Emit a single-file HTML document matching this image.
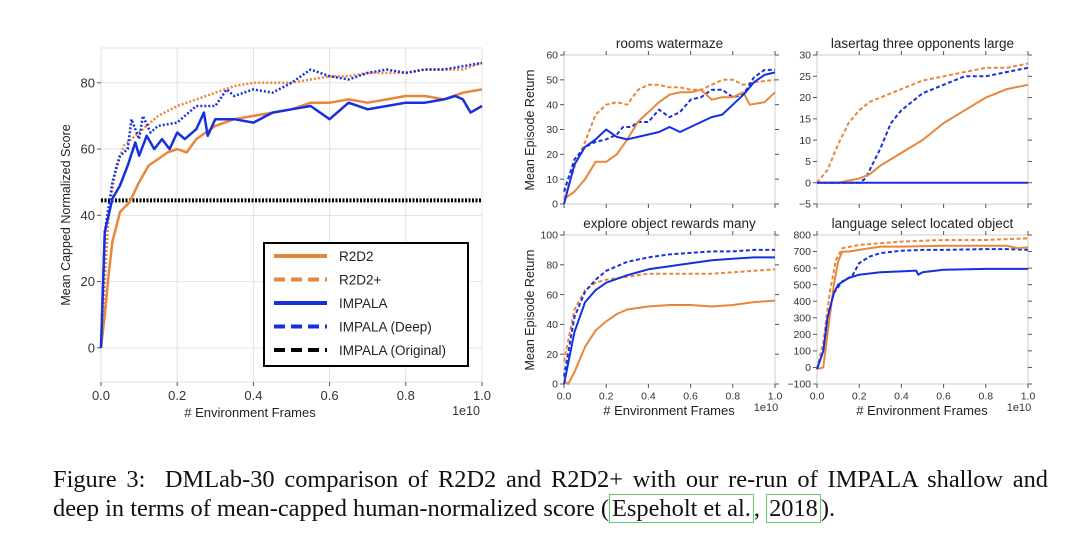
<!DOCTYPE html>
<html><head><meta charset="utf-8">
<style>
html,body{margin:0;padding:0;background:#fff;}
body{width:1080px;height:535px;overflow:hidden;position:relative;font-family:"Liberation Sans",sans-serif;}
.cap{position:absolute;left:53px;font-family:"Liberation Serif",serif;font-size:24.4px;color:#111;white-space:nowrap;}
.cite{border:1.5px solid #6c6;padding:0 2px;}
</style></head>
<body>
<svg id="fig" width="1080" height="460" style="position:absolute;left:0;top:0" font-family="Liberation Sans, sans-serif"></svg>
<div class="cap" style="top:466px;width:995px;text-align:justify;text-align-last:justify;white-space:normal">Figure 3:&nbsp; DMLab-30 comparison of R2D2 and R2D2+ with our re-run of IMPALA shallow and</div>
<div class="cap" style="top:495px">deep in terms of mean-capped human-normalized score (<span class="cite">Espeholt et al.</span>, <span class="cite">2018</span>).</div>
<script>
const OR='#e8873a', BL='#1530e0';
// ---- main chart data ----
const mainR2X=[0,0.01,0.02,0.03,0.05,0.075,0.1,0.125,0.15,0.175,0.2,0.225,0.25,0.275,0.3,0.35,0.4,0.45,0.5,0.55,0.6,0.65,0.7,0.75,0.8,0.85,0.9,0.95,1.0];
const mainR2Y=[0,10,22,32,41,44,50,55,57,59,60,59,63,65,67,69,70,71,72,74,74,75,74,75,76,76,75,77,78];
const mainR2pX=[0,0.02,0.04,0.06,0.1,0.15,0.2,0.25,0.3,0.35,0.4,0.45,0.5,0.55,0.6,0.65,0.7,0.75,0.8,0.85,0.9,0.95,1.0];
const mainR2pY=[0,40,55,61,65,70,73,75,77,79,80,80,80,81,82,82,83,83,83,84,84,84,86];
const mainImX=[0,0.01,0.03,0.05,0.07,0.09,0.1,0.12,0.14,0.16,0.18,0.2,0.22,0.25,0.27,0.28,0.3,0.35,0.4,0.45,0.5,0.55,0.6,0.65,0.7,0.75,0.8,0.85,0.9,0.93,0.95,0.97,1.0];
const mainImY=[0,35,45,49,55,62,58,64,60,63,60,65,63,66,71,64,69,69,68,71,72,73,69,74,72,73,74,74,75,76,75,71,73];
const mainDpX=[0,0.01,0.03,0.05,0.07,0.08,0.1,0.11,0.13,0.15,0.2,0.25,0.3,0.33,0.35,0.4,0.45,0.5,0.55,0.6,0.65,0.7,0.75,0.8,0.85,0.9,0.95,1.0];
const mainDpY=[0,35,50,58,60,69,63,70,65,67,68,73,73,78,76,78,77,80,84,82,81,83,84,83,84,84,85,86];
const mainOrigY=[44.5];
const mainYTicks=[0,20,40,60,80];
const xTicks=[0,0.2,0.4,0.6,0.8,1.0];
// ---- subplot data ----
const wmR2X=[0,0.05,0.1,0.15,0.2,0.25,0.3,0.35,0.4,0.45,0.5,0.55,0.6,0.65,0.7,0.75,0.8,0.85,0.88,0.95,1.0];
const wmR2Y=[2,5,10,17,17,20,26,33,37,41,44,45,45,46,42,43,43,45,40,41,45];
const wmR2pX=[0,0.05,0.1,0.15,0.2,0.25,0.3,0.35,0.4,0.45,0.5,0.55,0.6,0.65,0.7,0.75,0.8,0.85,0.9,1.0];
const wmR2pY=[2,15,25,36,40,41,40,46,48,48,47,47,46,46,48,50,50,48,49,50];
const wmImX=[0,0.05,0.1,0.15,0.2,0.25,0.3,0.35,0.4,0.45,0.5,0.55,0.6,0.65,0.7,0.75,0.8,0.85,0.9,0.95,1.0];
const wmImY=[0,16,23,26,30,27,26,27,28,29,31,29,31,33,35,36,40,44,49,52,53];
const wmDpX=[0,0.05,0.1,0.15,0.2,0.25,0.28,0.32,0.35,0.4,0.45,0.5,0.55,0.6,0.65,0.7,0.75,0.8,0.85,0.9,0.95,1.0];
const wmDpY=[5,18,23,25,26,28,31,31,33,33,38,35,37,42,43,46,46,43,44,51,54,54];
const ltR2X=[0,0.1,0.2,0.25,0.3,0.4,0.5,0.6,0.7,0.8,0.9,1.0];
const ltR2Y=[0,0,1,2,4,7,10,14,17,20,22,23];
const ltR2pX=[0,0.05,0.1,0.15,0.2,0.25,0.3,0.4,0.5,0.6,0.7,0.8,0.9,1.0];
const ltR2pY=[0,3,9,14,17,19,20,22,24,25,26,27,27,28];
const ltImX=[0,1.0];
const ltImY=[0,0];
const ltDpX=[0,0.2,0.23,0.3,0.35,0.4,0.5,0.6,0.7,0.8,0.9,1.0];
const ltDpY=[0,0,1,8,14,17,21,23,25,25,26,27];
const exR2X=[0,0.02,0.05,0.1,0.15,0.2,0.25,0.3,0.4,0.5,0.6,0.7,0.8,0.9,1.0];
const exR2Y=[2,0,8,25,36,42,47,50,52,53,53,52,53,55,56];
const exR2pX=[0,0.05,0.1,0.15,0.2,0.3,0.4,0.5,0.6,0.7,0.8,0.9,1.0];
const exR2pY=[15,50,63,68,70,72,74,74,74,74,75,76,77];
const exImX=[0,0.05,0.1,0.15,0.2,0.3,0.4,0.5,0.6,0.7,0.8,0.9,1.0];
const exImY=[0,35,55,63,68,73,77,79,81,83,84,85,85];
const exDpX=[0,0.05,0.1,0.15,0.2,0.3,0.4,0.5,0.6,0.7,0.8,0.9,1.0];
const exDpY=[5,45,62,70,76,82,85,87,88,89,89,90,90];
const lgR2X=[0,0.03,0.05,0.08,0.1,0.12,0.15,0.2,0.3,0.4,0.6,0.8,0.9,0.95,1.0];
const lgR2Y=[-10,0,200,500,640,700,700,710,730,730,735,735,735,720,725];
const lgR2pX=[0,0.03,0.06,0.09,0.12,0.2,0.3,0.4,0.6,0.8,1.0];
const lgR2pY=[-10,150,450,650,720,740,750,760,770,770,780];
const lgImX=[0,0.03,0.05,0.08,0.1,0.15,0.2,0.3,0.4,0.47,0.48,0.5,0.6,0.8,1.0];
const lgImY=[-10,100,300,450,500,540,560,575,580,585,560,575,590,595,595];
const lgDpX=[0,0.03,0.05,0.08,0.12,0.15,0.17,0.2,0.25,0.3,0.4,0.5,0.6,0.8,0.9,1.0];
const lgDpY=[-10,100,300,450,520,540,560,630,670,690,705,710,710,715,715,710];

const NS='http://www.w3.org/2000/svg';
const svg=document.getElementById('fig');
function mk(tag,attrs,parent){const e=document.createElementNS(NS,tag);for(const k in attrs)e.setAttribute(k,attrs[k]);(parent||svg).appendChild(e);return e;}
function txt(s,x,y,size,anchor,parent,extra){const t=mk('text',Object.assign({x:x,y:y,'font-size':size,'text-anchor':anchor||'middle',fill:'#333'},extra||{}),parent);t.textContent=s;return t;}

function axes(o){
  const g=mk('g',{});
  
  
  const sx=v=>o.x0+(v-0)/(1)*(o.x1-o.x0);
  const sy=v=>o.y1-(v-o.ymin)/(o.ymax-o.ymin)*(o.y1-o.y0);
  if(o.grid){
    o.yt.forEach(v=>mk('line',{x1:o.x0,x2:o.x1,y1:sy(v),y2:sy(v),stroke:'#e2e2e2','stroke-width':1},g));
    xTicks.forEach(v=>mk('line',{x1:sx(v),x2:sx(v),y1:o.y0,y2:o.y1,stroke:'#e2e2e2','stroke-width':1},g));
  }
  mk('rect',{x:o.x0,y:o.y0,width:o.x1-o.x0,height:o.y1-o.y0,fill:'none',stroke:o.grid?'#e2e2e2':'#ccc','stroke-width':1},g);
  o.yt.forEach(v=>{
    mk('line',{x1:o.x0-4,x2:o.x0,y1:sy(v),y2:sy(v),stroke:'#555'},g);
    if(!o.grid) mk('line',{x1:o.x1,x2:o.x1+4,y1:sy(v),y2:sy(v),stroke:'#555'},g);
    const lab=txt(String(v).replace('-','−'),o.x0-6,sy(v)+o.fs*0.35,o.fs,'end',g);
    
    
  });
  xTicks.forEach(v=>{
    mk('line',{x1:sx(v),x2:sx(v),y1:o.y1,y2:o.y1+4,stroke:'#555'},g);
    if(!o.grid) mk('line',{x1:sx(v),x2:sx(v),y1:o.y0-4,y2:o.y0,stroke:'#555'},g);
    if(o.xlab){const lab=txt(v.toFixed(1),sx(v),o.y1+o.fs+5,o.fs,'middle',g);
      
      }
  });
  if(o.title){const t=txt(o.title,(o.x0+o.x1)/2,o.y0-7,13.5,'middle',g,{fill:'#222'});
    
    }
  return {g,sx,sy};
}
function line(ax,xs,ys,color,w,dash,name){
  const d=xs.map((x,i)=>(i?'L':'M')+ax.sx(x).toFixed(1)+','+ax.sy(ys[i]).toFixed(1)).join('');
  const p=mk('path',{d:d,fill:'none',stroke:color,'stroke-width':w,'stroke-dasharray':dash||'none','stroke-linejoin':'round'},ax.g);
  
  
}

// main
const M=axes({name:'main-chart',x0:101,x1:482,y0:48,y1:382,ymin:-10.3,ymax:90.5,yt:mainYTicks,fs:13,grid:true,xlab:true});
line(M,[0,1],[mainOrigY[0],mainOrigY[0]],'#000',4,'2,1.5','series-impala-original');
line(M,mainR2pX,mainR2pY,OR,2.5,'2,2','series-r2d2-plus');
line(M,mainDpX,mainDpY,BL,2.5,'2,2','series-impala-deep');
line(M,mainR2X,mainR2Y,OR,2.5,null,'series-r2d2');
line(M,mainImX,mainImY,BL,2.5,null,'series-impala');
let t=txt('Mean Capped Normalized Score',0,0,12.5,'middle',M.g,{transform:'translate(70,215) rotate(-90)',fill:'#222'});


t=txt('# Environment Frames',250,417,13,'middle',M.g,{fill:'#222'});


t=txt('1e10',466,415,12.5,'middle',M.g);


// legend
const lg=mk('g',{});


mk('rect',{x:264,y:243,width:204,height:123,fill:'#fff',stroke:'#000','stroke-width':2},lg);
const legItems=[['R2D2',OR,null],['R2D2+',OR,'11,6'],['IMPALA',BL,null],['IMPALA (Deep)',BL,'11,6'],['IMPALA (Original)','#000','11,6']];
legItems.forEach((it,i)=>{
  const y=256+i*23.5;
  const e=mk('g',{},lg);
  
  
  mk('line',{x1:274,x2:327,y1:y,y2:y,stroke:it[1],'stroke-width':4,'stroke-dasharray':it[2]||'none'},e);
  txt(it[0],339,y+5,13.5,'start',e,{fill:'#222'});
});

// subplots
function sub(name,title,x0,y0,ymin,ymax,yt,xlab,ser,ylab){
  const A=axes({name:name,x0:x0,x1:x0+211,y0:y0,y1:y0+149,ymin:ymin,ymax:ymax,yt:yt,fs:10.5,grid:false,xlab:xlab,title:title});
  line(A,ser[2],ser[3],OR,2,'4,2.5','series-r2d2-plus');
  line(A,ser[6],ser[7],BL,2,'4,2.5','series-impala-deep');
  line(A,ser[0],ser[1],OR,2,null,'series-r2d2');
  line(A,ser[4],ser[5],BL,2,null,'series-impala');
  if(ylab){const t=txt('Mean Episode Return',0,0,12.5,'middle',A.g,{transform:'translate('+(x0-30)+','+(y0+75)+') rotate(-90)',fill:'#222'});
    
    }
  if(xlab){let t=txt('# Environment Frames',x0+105,y0+180,13,'middle',A.g,{fill:'#222'});
    
    
    t=txt('1e10',x0+202,y0+176,11,'middle',A.g);
    
    }
}
sub('subplot-rooms-watermaze','rooms watermaze',564,55,0,60,[0,10,20,30,40,50,60],false,[wmR2X,wmR2Y,wmR2pX,wmR2pY,wmImX,wmImY,wmDpX,wmDpY],true);
sub('subplot-lasertag','lasertag three opponents large',817,55,-5,30,[-5,0,5,10,15,20,25,30],false,[ltR2X,ltR2Y,ltR2pX,ltR2pY,ltImX,ltImY,ltDpX,ltDpY],false);
sub('subplot-explore-object','explore object rewards many',564,235,0,100,[0,20,40,60,80,100],true,[exR2X,exR2Y,exR2pX,exR2pY,exImX,exImY,exDpX,exDpY],true);
sub('subplot-language-select','language select located object',817,235,-100,800,[-100,0,100,200,300,400,500,600,700,800],true,[lgR2X,lgR2Y,lgR2pX,lgR2pY,lgImX,lgImY,lgDpX,lgDpY],false);
</script>
</body></html>
